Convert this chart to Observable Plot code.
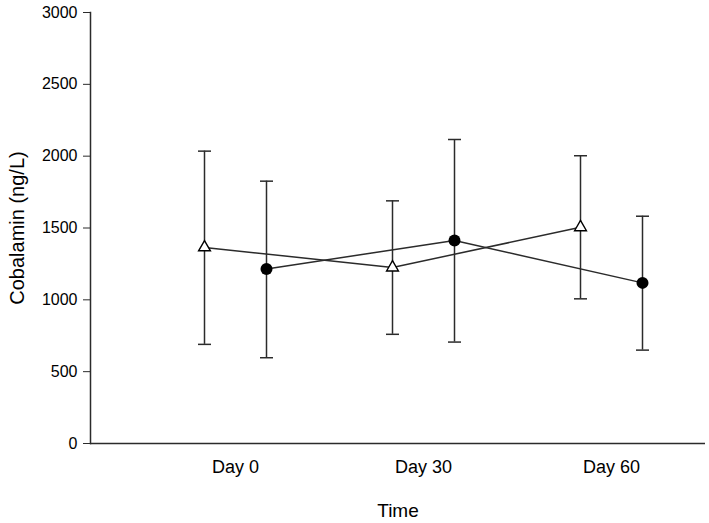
<!DOCTYPE html>
<html>
<head>
<meta charset="utf-8">
<script src="https://cdn.jsdelivr.net/npm/d3@7"></script>
<script src="https://cdn.jsdelivr.net/npm/@observablehq/plot@0.6"></script>
<style>
  html, body { margin: 0; padding: 0; background: #fff; }
  svg { font-family: "Liberation Sans", Arial, sans-serif; }
</style>
</head>
<body>
<div id="chart"></div>
<script>
const days = ["Day 0", "Day 30", "Day 60"];
const triMean = [1365, 1225, 1505];
const triLow  = [690, 760, 1007];
const triHigh = [2035, 1689, 2003];
const dotMean = [1215, 1413, 1118];
const dotLow  = [597, 706, 650];
const dotHigh = [1826, 2116, 1582];
const yTicks = [0, 500, 1000, 1500, 2000, 2500, 3000];

const tri = days.map((d, i) => ({day: d, mean: triMean[i], low: triLow[i], high: triHigh[i]}));
const dot = days.map((d, i) => ({day: d, mean: dotMean[i], low: dotLow[i], high: dotHigh[i]}));

const OFF = 31;
const ink = "#2b2b2b";
const cap = {draw(ctx) { ctx.moveTo(-6.5, 0); ctx.lineTo(6.5, 0); }};

function series(data, dx) {
  return [
    Plot.line(data, {x: "day", y: "mean", dx, stroke: ink, strokeWidth: 1.5}),
    Plot.ruleX(data, {x: "day", y1: "low", y2: "high", dx, stroke: ink, strokeWidth: 1.5}),
    Plot.dot(data, {x: "day", y: "low", dx, symbol: cap, stroke: ink, strokeWidth: 1.5, fill: "none"}),
    Plot.dot(data, {x: "day", y: "high", dx, symbol: cap, stroke: ink, strokeWidth: 1.5, fill: "none"})
  ];
}

const chart = Plot.plot({
  width: 709,
  height: 523,
  marginLeft: 90,
  marginRight: 4,
  marginTop: 12,
  marginBottom: 80,
  style: {fontSize: "16px", fontFamily: "Liberation Sans, Arial, sans-serif", color: "#000", background: "#fff"},
  x: {type: "point", domain: days, padding: 0.631, align: 0.607},
  y: {domain: [0, 3000]},
  marks: [
    Plot.axisY({ticks: yTicks, tickFormat: d => String(d), tickSize: 7, tickPadding: 6, fontSize: 16, stroke: ink, label: null}),
    Plot.axisY({ticks: [], tickSize: 0, label: "Cobalamin (ng/L)", labelAnchor: "center", labelArrow: "none", labelOffset: 81, fontSize: 20}),
    Plot.axisX({tickSize: 0, tickPadding: 17, fontSize: 18, label: null}),
    Plot.axisX({ticks: [], tickSize: 0, label: "Time", labelAnchor: "center", labelArrow: "none", labelOffset: 73, fontSize: 19}),
    Plot.ruleY([0], {stroke: ink, strokeWidth: 1.5}),
    Plot.frame({anchor: "left", stroke: ink, strokeWidth: 1.5}),
    ...series(tri, -OFF),
    ...series(dot, OFF),
    Plot.dot(tri, {x: "day", y: "mean", dx: -OFF, symbol: "triangle", r: 4.4, stroke: "#000", strokeWidth: 1.4, fill: "#fff"}),
    Plot.dot(dot, {x: "day", y: "mean", dx: OFF, symbol: "circle", r: 6, fill: "#000", stroke: "none"})
  ]
});
document.getElementById("chart").appendChild(chart);
</script>
</body>
</html>
